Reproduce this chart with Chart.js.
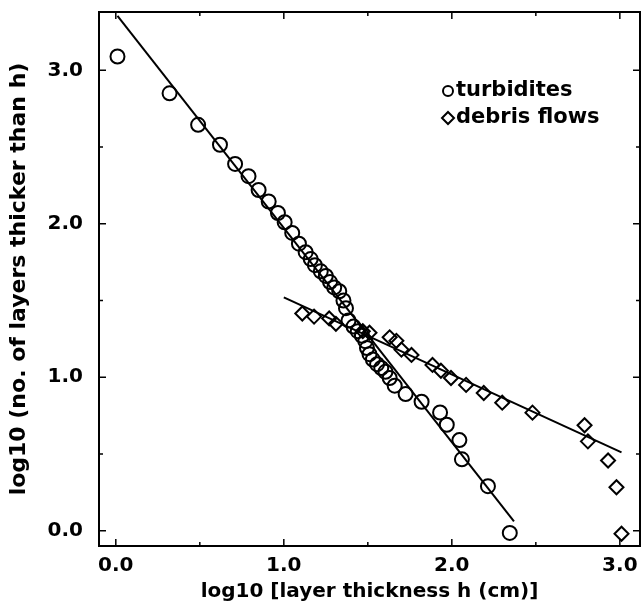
<!DOCTYPE html>
<html>
<head>
<meta charset="utf-8">
<script src="https://cdn.jsdelivr.net/npm/chart.js@4.4.1/dist/chart.umd.min.js"></script>
<style>
  html, body { margin: 0; padding: 0; background: #fff; }
</style>
</head>
<body>
<canvas id="chart" width="642" height="614"></canvas>
<script>
// turbidites (circles)
const turbX = [0.01, 0.32, 0.49, 0.62, 0.71, 0.79, 0.85, 0.91, 0.965, 1.005, 1.05, 1.09, 1.13, 1.16, 1.185,
               1.22, 1.25, 1.275, 1.30, 1.33, 1.355, 1.37, 1.385, 1.415, 1.44, 1.465, 1.485, 1.495, 1.51,
               1.53, 1.555, 1.58, 1.605, 1.63, 1.66, 1.725, 1.82, 1.93, 1.97, 2.045, 2.06, 2.215, 2.345];
const turbY = [3.09, 2.85, 2.645, 2.515, 2.39, 2.31, 2.22, 2.145, 2.07, 2.01, 1.94, 1.87, 1.815, 1.77, 1.73,
               1.69, 1.66, 1.62, 1.585, 1.56, 1.50, 1.45, 1.37, 1.33, 1.30, 1.27, 1.235, 1.19, 1.15,
               1.115, 1.085, 1.06, 1.035, 0.995, 0.945, 0.89, 0.84, 0.77, 0.69, 0.59, 0.465, 0.29, -0.015];

// debris flows (diamonds)
const debrisX = [1.11, 1.18, 1.27, 1.31, 1.47, 1.51, 1.63, 1.67, 1.70, 1.76, 1.885, 1.935, 1.995, 2.085,
                 2.19, 2.30, 2.48, 2.79, 2.81, 2.93, 2.98, 3.01];
const debrisY = [1.415, 1.395, 1.383, 1.348, 1.30, 1.29, 1.26, 1.237, 1.18, 1.145, 1.08, 1.042, 0.995, 0.95,
                 0.897, 0.834, 0.769, 0.687, 0.582, 0.457, 0.283, -0.02];

// fitted lines (end points)
const turbFitX = [0.01, 2.37];
const turbFitY = [3.355, 0.06];
const debrisFitX = [1.0, 3.01];
const debrisFitY = [1.52, 0.51];

// axis ticks
const xTicks = [0, 1, 2, 3];
const yTicks = [0, 1, 2, 3];
const xMinorTicks = [0.5, 1.5, 2.5];
const yMinorTicks = [0.5, 1.5, 2.5];

const seriesLabels = ['turbidites', 'debris flows'];

const toPoints = (xs, ys) => xs.map((x, i) => ({ x: x, y: ys[i] }));

const noPadding = s => {
    s.paddingLeft = 0;
    s.paddingRight = 0;
    s.paddingTop = 0;
    s.paddingBottom = 0;
};

// frame, inward ticks and the legend inside the box
const framePlugin = {
    id: 'frameAndLegend',
    afterDraw(chart) {
        const { ctx, chartArea: a, scales } = chart;
        const xs = scales.x, ys = scales.y;
        ctx.save();
        ctx.strokeStyle = '#000';
        ctx.lineWidth = 2;
        ctx.strokeRect(a.left, a.top, a.right - a.left, a.bottom - a.top);

        ctx.lineWidth = 1.5;
        ctx.beginPath();
        const xTick = (v, len) => {
            const p = xs.getPixelForValue(v);
            ctx.moveTo(p, a.bottom); ctx.lineTo(p, a.bottom - len);
            ctx.moveTo(p, a.top); ctx.lineTo(p, a.top + len);
        };
        const yTick = (v, len) => {
            const p = ys.getPixelForValue(v);
            ctx.moveTo(a.left, p); ctx.lineTo(a.left + len, p);
            ctx.moveTo(a.right, p); ctx.lineTo(a.right - len, p);
        };
        xTicks.forEach(v => xTick(v, 7));
        xMinorTicks.forEach(v => xTick(v, 4));
        yTicks.forEach(v => yTick(v, 7));
        yMinorTicks.forEach(v => yTick(v, 4));
        ctx.stroke();

        // legend
        const lx = 448;
        const ly = a.top + 79;
        ctx.lineWidth = 2;
        ctx.beginPath();
        ctx.arc(lx, ly, 5, 0, Math.PI * 2);
        ctx.stroke();
        ctx.beginPath();
        ctx.moveTo(lx, ly + 27 - 6);
        ctx.lineTo(lx + 6, ly + 27);
        ctx.lineTo(lx, ly + 27 + 6);
        ctx.lineTo(lx - 6, ly + 27);
        ctx.closePath();
        ctx.stroke();
        ctx.fillStyle = '#000';
        ctx.font = "bold 21px 'DejaVu Sans'";
        ctx.textBaseline = 'middle';
        ctx.textAlign = 'left';
        ctx.fillText(seriesLabels[0], lx + 8, ly);
        ctx.fillText(seriesLabels[1], lx + 8, ly + 27);
        ctx.restore();
    }
};

const generateConf = () => {
    const datasets = [
        {
            type: 'line',
            data: toPoints(turbFitX, turbFitY),
            borderColor: '#000',
            borderWidth: 2,
            pointRadius: 0,
            fill: false
        },
        {
            type: 'line',
            data: toPoints(debrisFitX, debrisFitY),
            borderColor: '#000',
            borderWidth: 2,
            pointRadius: 0,
            fill: false
        },
        {
            label: seriesLabels[0],
            data: toPoints(turbX, turbY),
            pointStyle: 'circle',
            pointRadius: 7,
            borderWidth: 2,
            borderColor: '#000',
            backgroundColor: 'rgba(0,0,0,0)'
        },
        {
            label: seriesLabels[1],
            data: toPoints(debrisX, debrisY),
            pointStyle: 'rectRot',
            pointRadius: 7,
            borderWidth: 2,
            borderColor: '#000',
            backgroundColor: 'rgba(0,0,0,0)'
        }
    ];

    return {
        type: 'scatter',
        data: { datasets: datasets },
        plugins: [framePlugin],
        options: {
            responsive: false,
            animation: false,
            devicePixelRatio: 1,
            // autoPadding adds room for the point radius, which pushed the box in from the right
            layout: { autoPadding: false, padding: { top: 12, right: 2, left: 0, bottom: 0 } },
            plugins: {
                legend: { display: false },
                tooltip: { enabled: false }
            },
            scales: {
                x: {
                    type: 'linear',
                    min: -0.1,
                    max: 3.12,
                    afterBuildTicks: s => { s.ticks = xTicks.map(v => ({ value: v })); },
                    afterFit: s => { s.height = 68; noPadding(s); },
                    grid: { display: false, drawTicks: false },
                    border: { display: false },
                    ticks: {
                        padding: 8,
                        color: '#000',
                        font: { size: 20, weight: 'bold' },
                        maxRotation: 0,
                        callback: v => v.toFixed(1)
                    },
                    title: {
                        display: true,
                        text: 'log10 [layer thickness h (cm)]',
                        color: '#000',
                        font: { size: 20, weight: 'bold' },
                        padding: { top: 0, bottom: 10 }
                    }
                },
                y: {
                    type: 'linear',
                    min: -0.1,
                    max: 3.38,
                    afterBuildTicks: s => { s.ticks = yTicks.map(v => ({ value: v })); },
                    afterFit: s => { s.width = 99; noPadding(s); },
                    grid: { display: false, drawTicks: false },
                    border: { display: false },
                    ticks: {
                        padding: 16,
                        color: '#000',
                        font: { size: 20, weight: 'bold' },
                        callback: v => v.toFixed(1)
                    },
                    title: {
                        display: true,
                        text: 'log10 (no. of layers thicker than h)',
                        color: '#000',
                        font: { size: 22, weight: 'bold' },
                        padding: { top: 6, bottom: 0 }
                    }
                }
            }
        }
    };
};

Chart.defaults.font.family = "'DejaVu Sans', sans-serif";
Chart.defaults.color = '#000';

const chart = new Chart(document.getElementById('chart'), generateConf());
</script>
</body>
</html>
